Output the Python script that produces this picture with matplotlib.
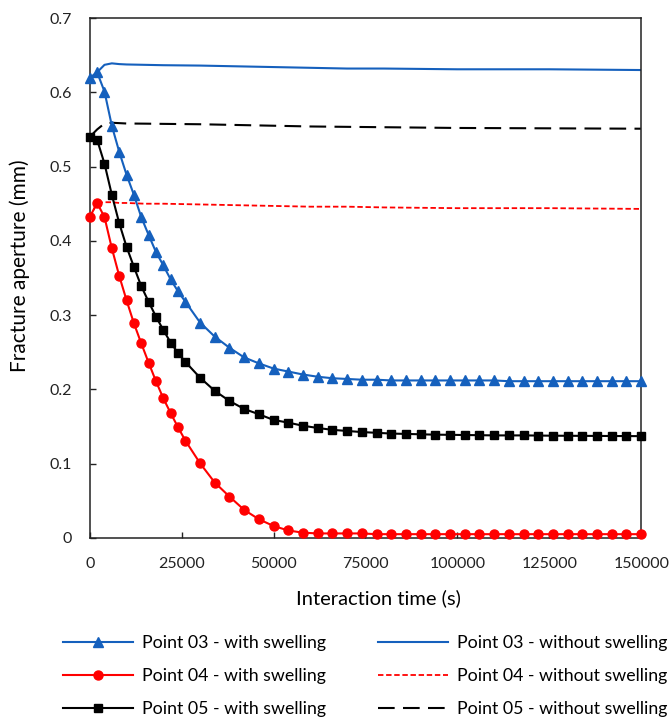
import matplotlib
matplotlib.use("Agg")
import matplotlib.pyplot as plt

plt.rcParams['font.family'] = ['Lato', 'DejaVu Sans']

# time steps of the "with swelling" runs (s)
t_sw = [0, 2000, 4000, 6000, 8000, 10000, 12000, 14000, 16000, 18000, 20000,
        22000, 24000, 26000, 30000, 34000, 38000, 42000, 46000, 50000, 54000,
        58000, 62000, 66000, 70000, 74000, 78000, 82000, 86000, 90000, 94000,
        98000, 102000, 106000, 110000, 114000, 118000, 122000, 126000, 130000,
        134000, 138000, 142000, 146000, 150000]

p03_sw = [0.619, 0.627, 0.601, 0.555, 0.520, 0.489, 0.462, 0.432, 0.408, 0.385,
          0.367, 0.348, 0.332, 0.318, 0.290, 0.271, 0.256, 0.243, 0.235, 0.228,
          0.224, 0.220, 0.217, 0.215, 0.214, 0.213, 0.213, 0.212, 0.212, 0.212,
          0.212, 0.212, 0.212, 0.212, 0.212, 0.211, 0.211, 0.211, 0.211, 0.211,
          0.211, 0.211, 0.211, 0.211, 0.211]

p04_sw = [0.432, 0.451, 0.432, 0.390, 0.353, 0.320, 0.289, 0.262, 0.236, 0.211,
          0.188, 0.168, 0.149, 0.131, 0.1005, 0.0745, 0.0556, 0.0377, 0.0251,
          0.016, 0.010, 0.007, 0.006, 0.006, 0.006, 0.006, 0.005, 0.005, 0.005,
          0.005, 0.005, 0.005, 0.005, 0.005, 0.005, 0.005, 0.005, 0.005, 0.005,
          0.005, 0.005, 0.005, 0.005, 0.005, 0.005]

p05_sw = [0.540, 0.536, 0.504, 0.462, 0.424, 0.392, 0.365, 0.339, 0.318, 0.298,
          0.280, 0.263, 0.249, 0.237, 0.2157, 0.198, 0.1844, 0.1736, 0.1665,
          0.1588, 0.1552, 0.151, 0.148, 0.1455, 0.144, 0.1425, 0.1415, 0.1405,
          0.140, 0.1395, 0.139, 0.1388, 0.1385, 0.1383, 0.138, 0.138, 0.138,
          0.1378, 0.1376, 0.1375, 0.1374, 0.1373, 0.1372, 0.1371, 0.137]

# "without swelling" runs
t_nosw = [0, 2000, 4000, 6000, 8000, 10000, 15000, 20000, 30000, 40000, 50000,
          60000, 70000, 80000, 100000, 125000, 150000]
p03_nosw = [0.619, 0.627, 0.637, 0.639, 0.638, 0.6375, 0.637, 0.6365, 0.636,
            0.635, 0.634, 0.633, 0.632, 0.632, 0.631, 0.631, 0.630]
p04_nosw = [0.432, 0.451, 0.452, 0.452, 0.451, 0.451, 0.450, 0.450, 0.449,
            0.448, 0.447, 0.446, 0.446, 0.445, 0.444, 0.444, 0.443]
p05_nosw = [0.540, 0.550, 0.558, 0.559, 0.5585, 0.558, 0.5578, 0.5575, 0.557,
            0.556, 0.555, 0.554, 0.5535, 0.553, 0.552, 0.5515, 0.551]

blue = '#1560BD'
red = '#FF0000'

fig = plt.figure(figsize=(6.7, 7.22), dpi=100)
ax = fig.add_axes([0.134, 0.255, 0.823, 0.72])

ax.plot(t_sw, p03_sw, color=blue, lw=1.5, marker='^', ms=6.5, clip_on=False,
        zorder=3, label='Point 03 - with swelling')
ax.plot(t_sw, p04_sw, color=red, lw=1.5, marker='o', ms=6.5, clip_on=False,
        zorder=3, label='Point 04 - with swelling')
ax.plot(t_sw, p05_sw, color='black', lw=1.5, marker='s', ms=6, clip_on=False,
        zorder=3, label='Point 05 - with swelling')
ax.plot(t_nosw, p03_nosw, color=blue, lw=1.5, label='Point 03 - without swelling')
ax.plot(t_nosw, p04_nosw, color=red, lw=1.3, ls=(0, (3, 1.5)),
        label='Point 04 - without swelling')
ax.plot(t_nosw, p05_nosw, color='black', lw=1.5, ls=(0, (8, 4)),
        label='Point 05 - without swelling')

ax.set_xlim(0, 150000)
ax.set_ylim(0, 0.7)
ax.set_xticks([0, 25000, 50000, 75000, 100000, 125000, 150000])
ax.set_yticks([0, 0.1, 0.2, 0.3, 0.4, 0.5, 0.6, 0.7])
ax.set_yticklabels(['0', '0.1', '0.2', '0.3', '0.4', '0.5', '0.6', '0.7'])
ax.tick_params(direction='in', length=4, width=1, labelsize=11.5, colors='#222222')
ax.tick_params(axis='x', pad=14)
ax.tick_params(axis='y', pad=13)
for s in ax.spines.values():
    s.set_linewidth(1.1)
    s.set_color('#222222')

ax.set_xlabel('Interaction time (s)', fontsize=14.5)
ax.set_ylabel('Fracture aperture (mm)', fontsize=15)
ax.xaxis.set_label_coords(0.523, -0.098)
ax.yaxis.set_label_coords(-0.108, 0.524)

fig.legend(loc='center', bbox_to_anchor=(0.545, 0.0637), ncol=2, frameon=False,
           fontsize=12.75, handlelength=4.0, handletextpad=0.5, columnspacing=2.9,
           labelspacing=0.95)

fig.savefig('out.png', dpi=100)
